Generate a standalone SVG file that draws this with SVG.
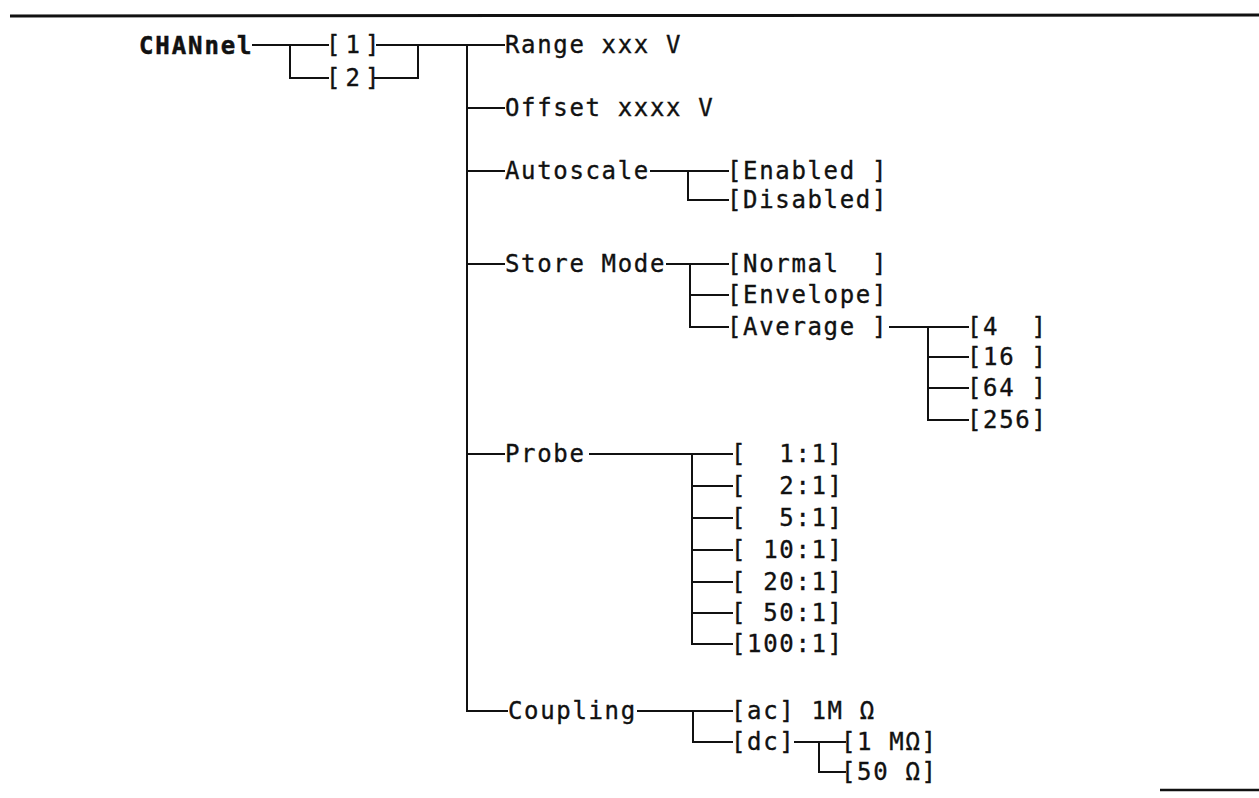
<svg xmlns="http://www.w3.org/2000/svg" width="1259" height="798" viewBox="0 0 1259 798" xml:space="preserve">
<style>
text{font-family:"DejaVu Sans Mono","Liberation Mono",monospace;font-size:24px;letter-spacing:1.65px;fill:#111;stroke:#111;stroke-width:0.35px;white-space:pre}
.b{font-weight:bold;letter-spacing:1.9px;stroke-width:0.5px}
.w{letter-spacing:5px}
.c line{stroke:#111;stroke-width:2;stroke-linecap:square}
.rule{stroke:#111;stroke-width:3}
</style>
<rect width="1259" height="798" fill="#fff"/>
<line class="rule" x1="10" y1="16" x2="1259" y2="15"/>
<line x1="1160" y1="790" x2="1259" y2="790" stroke="#111" stroke-width="2.5"/>
<g class="c" id="connectors">
<line x1="253" y1="45" x2="328" y2="45"/>
<line x1="290" y1="45" x2="290" y2="78"/>
<line x1="290" y1="78" x2="328" y2="78"/>
<line x1="377" y1="45" x2="504" y2="45"/>
<line x1="375" y1="78" x2="418" y2="78"/>
<line x1="418" y1="45" x2="418" y2="78"/>
<line x1="467" y1="45" x2="467" y2="711"/>
<line x1="467" y1="108" x2="504" y2="108"/>
<line x1="467" y1="171" x2="504" y2="171"/>
<line x1="467" y1="264" x2="504" y2="264"/>
<line x1="467" y1="454" x2="504" y2="454"/>
<line x1="467" y1="711" x2="507" y2="711"/>
<line x1="651" y1="171" x2="728" y2="171"/>
<line x1="688" y1="171" x2="688" y2="200"/>
<line x1="688" y1="200" x2="728" y2="200"/>
<line x1="667" y1="264" x2="728" y2="264"/>
<line x1="690" y1="264" x2="690" y2="327"/>
<line x1="690" y1="295" x2="728" y2="295"/>
<line x1="690" y1="327" x2="728" y2="327"/>
<line x1="890" y1="327" x2="968" y2="327"/>
<line x1="928" y1="327" x2="928" y2="420"/>
<line x1="928" y1="357" x2="968" y2="357"/>
<line x1="928" y1="388" x2="968" y2="388"/>
<line x1="928" y1="420" x2="968" y2="420"/>
<line x1="590" y1="454" x2="732" y2="454"/>
<line x1="692" y1="454" x2="692" y2="644"/>
<line x1="692" y1="486" x2="732" y2="486"/>
<line x1="692" y1="518" x2="732" y2="518"/>
<line x1="692" y1="550" x2="732" y2="550"/>
<line x1="692" y1="582" x2="732" y2="582"/>
<line x1="692" y1="613" x2="732" y2="613"/>
<line x1="692" y1="644" x2="732" y2="644"/>
<line x1="638" y1="711" x2="732" y2="711"/>
<line x1="693" y1="711" x2="693" y2="742"/>
<line x1="693" y1="742" x2="732" y2="742"/>
<line x1="795" y1="742" x2="845" y2="742"/>
<line x1="819" y1="742" x2="819" y2="772"/>
<line x1="819" y1="772" x2="845" y2="772"/>
</g>
<g id="channel"><text class="b" x="139" y="54">CHANnel</text></g>
<g id="ch1"><text class="w" x="326" y="53">[1]</text></g>
<g id="ch2"><text class="w" x="326" y="86">[2]</text></g>
<g id="range"><text x="505" y="53">Range xxx V</text></g>
<g id="offset"><text x="505" y="116">Offset xxxx V</text></g>
<g id="autoscale"><text x="505" y="179">Autoscale</text></g>
<g id="enabled"><text x="727" y="179">[Enabled ]</text></g>
<g id="disabled"><text x="727" y="208">[Disabled]</text></g>
<g id="storemode"><text x="505" y="272">Store Mode</text></g>
<g id="normal"><text x="727" y="272">[Normal  ]</text></g>
<g id="envelope"><text x="727" y="303">[Envelope]</text></g>
<g id="average"><text x="727" y="335">[Average ]</text></g>
<g id="avg4"><text x="967" y="335">[4  ]</text></g>
<g id="avg16"><text x="967" y="365">[16 ]</text></g>
<g id="avg64"><text x="967" y="396">[64 ]</text></g>
<g id="avg256"><text x="967" y="428">[256]</text></g>
<g id="probe"><text x="505" y="462">Probe</text></g>
<g id="p1"><text x="731" y="462">[  1:1]</text></g>
<g id="p2"><text x="731" y="494">[  2:1]</text></g>
<g id="p5"><text x="731" y="526">[  5:1]</text></g>
<g id="p10"><text x="731" y="558">[ 10:1]</text></g>
<g id="p20"><text x="731" y="590">[ 20:1]</text></g>
<g id="p50"><text x="731" y="621">[ 50:1]</text></g>
<g id="p100"><text x="731" y="652">[100:1]</text></g>
<g id="coupling"><text x="508" y="719">Coupling</text></g>
<g id="ac"><text x="731" y="719">[ac] 1M Ω</text></g>
<g id="dc"><text x="731" y="750">[dc]</text></g>
<g id="dc1m"><text x="841" y="750">[1 MΩ]</text></g>
<g id="dc50"><text x="841" y="780">[50 Ω]</text></g>
</svg>
